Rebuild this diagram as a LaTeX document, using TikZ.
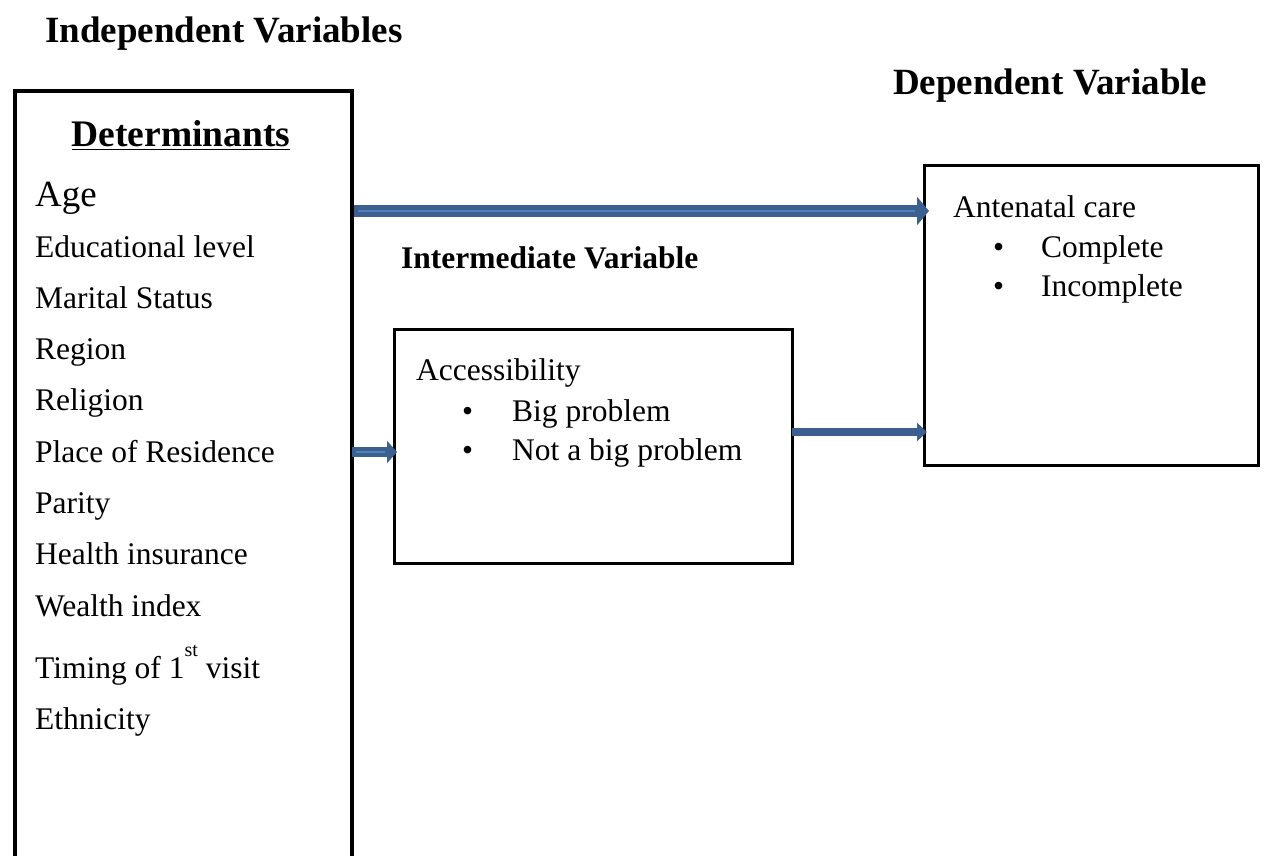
\documentclass[tikz,border=0pt]{standalone}
\usepackage{fontspec}
\setmainfont{Liberation Serif}
\usetikzlibrary{arrows.meta,calc}
\definecolor{arrdark}{HTML}{3B5F8E}
\definecolor{arrlight}{HTML}{4F81BD}
\tikzset{
  boxA/.style={draw=black, line width=4pt, fill=none, inner sep=0pt},
  boxB/.style={draw=black, line width=3.2pt, fill=none, inner sep=0pt},
  lbl/.style={anchor=base west, inner sep=0pt, text=black},
  fatarrow/.style={draw=arrdark, line width=12pt, -{Triangle[length=12pt,width=28pt]}},
  stripe/.style={draw=arrlight, line width=2.5pt},
  smallarrow/.style={draw=arrdark, line width=10pt, -{Triangle[length=10pt,width=22pt]}},
  solidarrow/.style={draw=arrdark, line width=8pt, -{Triangle[length=10pt,width=18pt]}},
}
\begin{document}
\begin{tikzpicture}[x=1pt,y=-1pt]
\useasboundingbox (0,0) rectangle (1264,856);
\clip (0,0) rectangle (1264,856);
% boxes
\node[boxA, minimum width=337pt, minimum height=800pt, anchor=north west] (det) at (13,89) {};
\node[boxB, minimum width=398pt, minimum height=234pt, anchor=north west] (acc) at (393,328) {};
\node[boxB, minimum width=334pt, minimum height=300pt, anchor=north west] (anc) at (923,164) {};
% headings
\node[lbl, font=\fontsize{37}{42}\selectfont\bfseries] (indep) at (45,43) {Independent Variables};
\node[lbl, font=\fontsize{37}{42}\selectfont\bfseries] (dep) at (893,95) {Dependent Variable};
\node[lbl, font=\fontsize{31.5}{36}\selectfont\bfseries] (inter) at (401,268) {Intermediate Variable};
% determinants
\node[anchor=base, inner sep=0pt, font=\fontsize{37.5}{42}\selectfont\bfseries] (dtitle) at (181,147) {\underline{Determinants}};
\begin{scope}[every node/.style={lbl, font=\fontsize{31.5}{36}\selectfont}]
\node[font=\fontsize{37}{42}\selectfont] (age) at (35,206) {Age};
\node (edu) at (35,257) {Educational level};
\node (mar) at (35,308) {Marital Status};
\node (reg) at (35,359) {Region};
\node (rel) at (35,410) {Religion};
\node (res) at (35,462) {Place of Residence};
\node (par) at (35,513) {Parity};
\node (hea) at (35,564) {Health insurance};
\node (wea) at (35,616) {Wealth index};
\node (tim) at (35,678) {Timing of 1\raisebox{22pt}{\fontsize{20}{24}\selectfont st} visit};
\node (eth) at (35,729) {Ethnicity};
% accessibility
\node (accl) at (416,380) {Accessibility};
\node (b1) at (462,421) {\textbullet};
\node (bp) at (512,421) {Big problem};
\node (b2) at (462,460) {\textbullet};
\node (nbp) at (512,460) {Not a big problem};
% antenatal
\node (ancl) at (953,217) {Antenatal care};
\node (b3) at (993,257) {\textbullet};
\node (com) at (1041,257) {Complete};
\node (b4) at (993,296) {\textbullet};
\node (inc) at (1041,296) {Incomplete};
\end{scope}
% arrows
\coordinate (a1) at (0,211);
\draw[fatarrow] (det.east |- a1) -- ([xshift=6pt]anc.west |- a1);
\draw[stripe] ([xshift=4pt]det.east |- a1) -- ([xshift=-8pt]anc.west |- a1);
\coordinate (a2) at (0,452);
\draw[smallarrow] ([xshift=-2pt]det.east |- a2) -- ([xshift=4pt]acc.west |- a2);
\draw[draw=arrlight, line width=2pt] ([xshift=2pt]det.east |- a2) -- ([xshift=-8pt]acc.west |- a2);
\coordinate (a3) at (0,432);
\draw[solidarrow] ([xshift=-2pt]acc.east |- a3) -- ([xshift=4pt]anc.west |- a3);
\end{tikzpicture}
\end{document}
